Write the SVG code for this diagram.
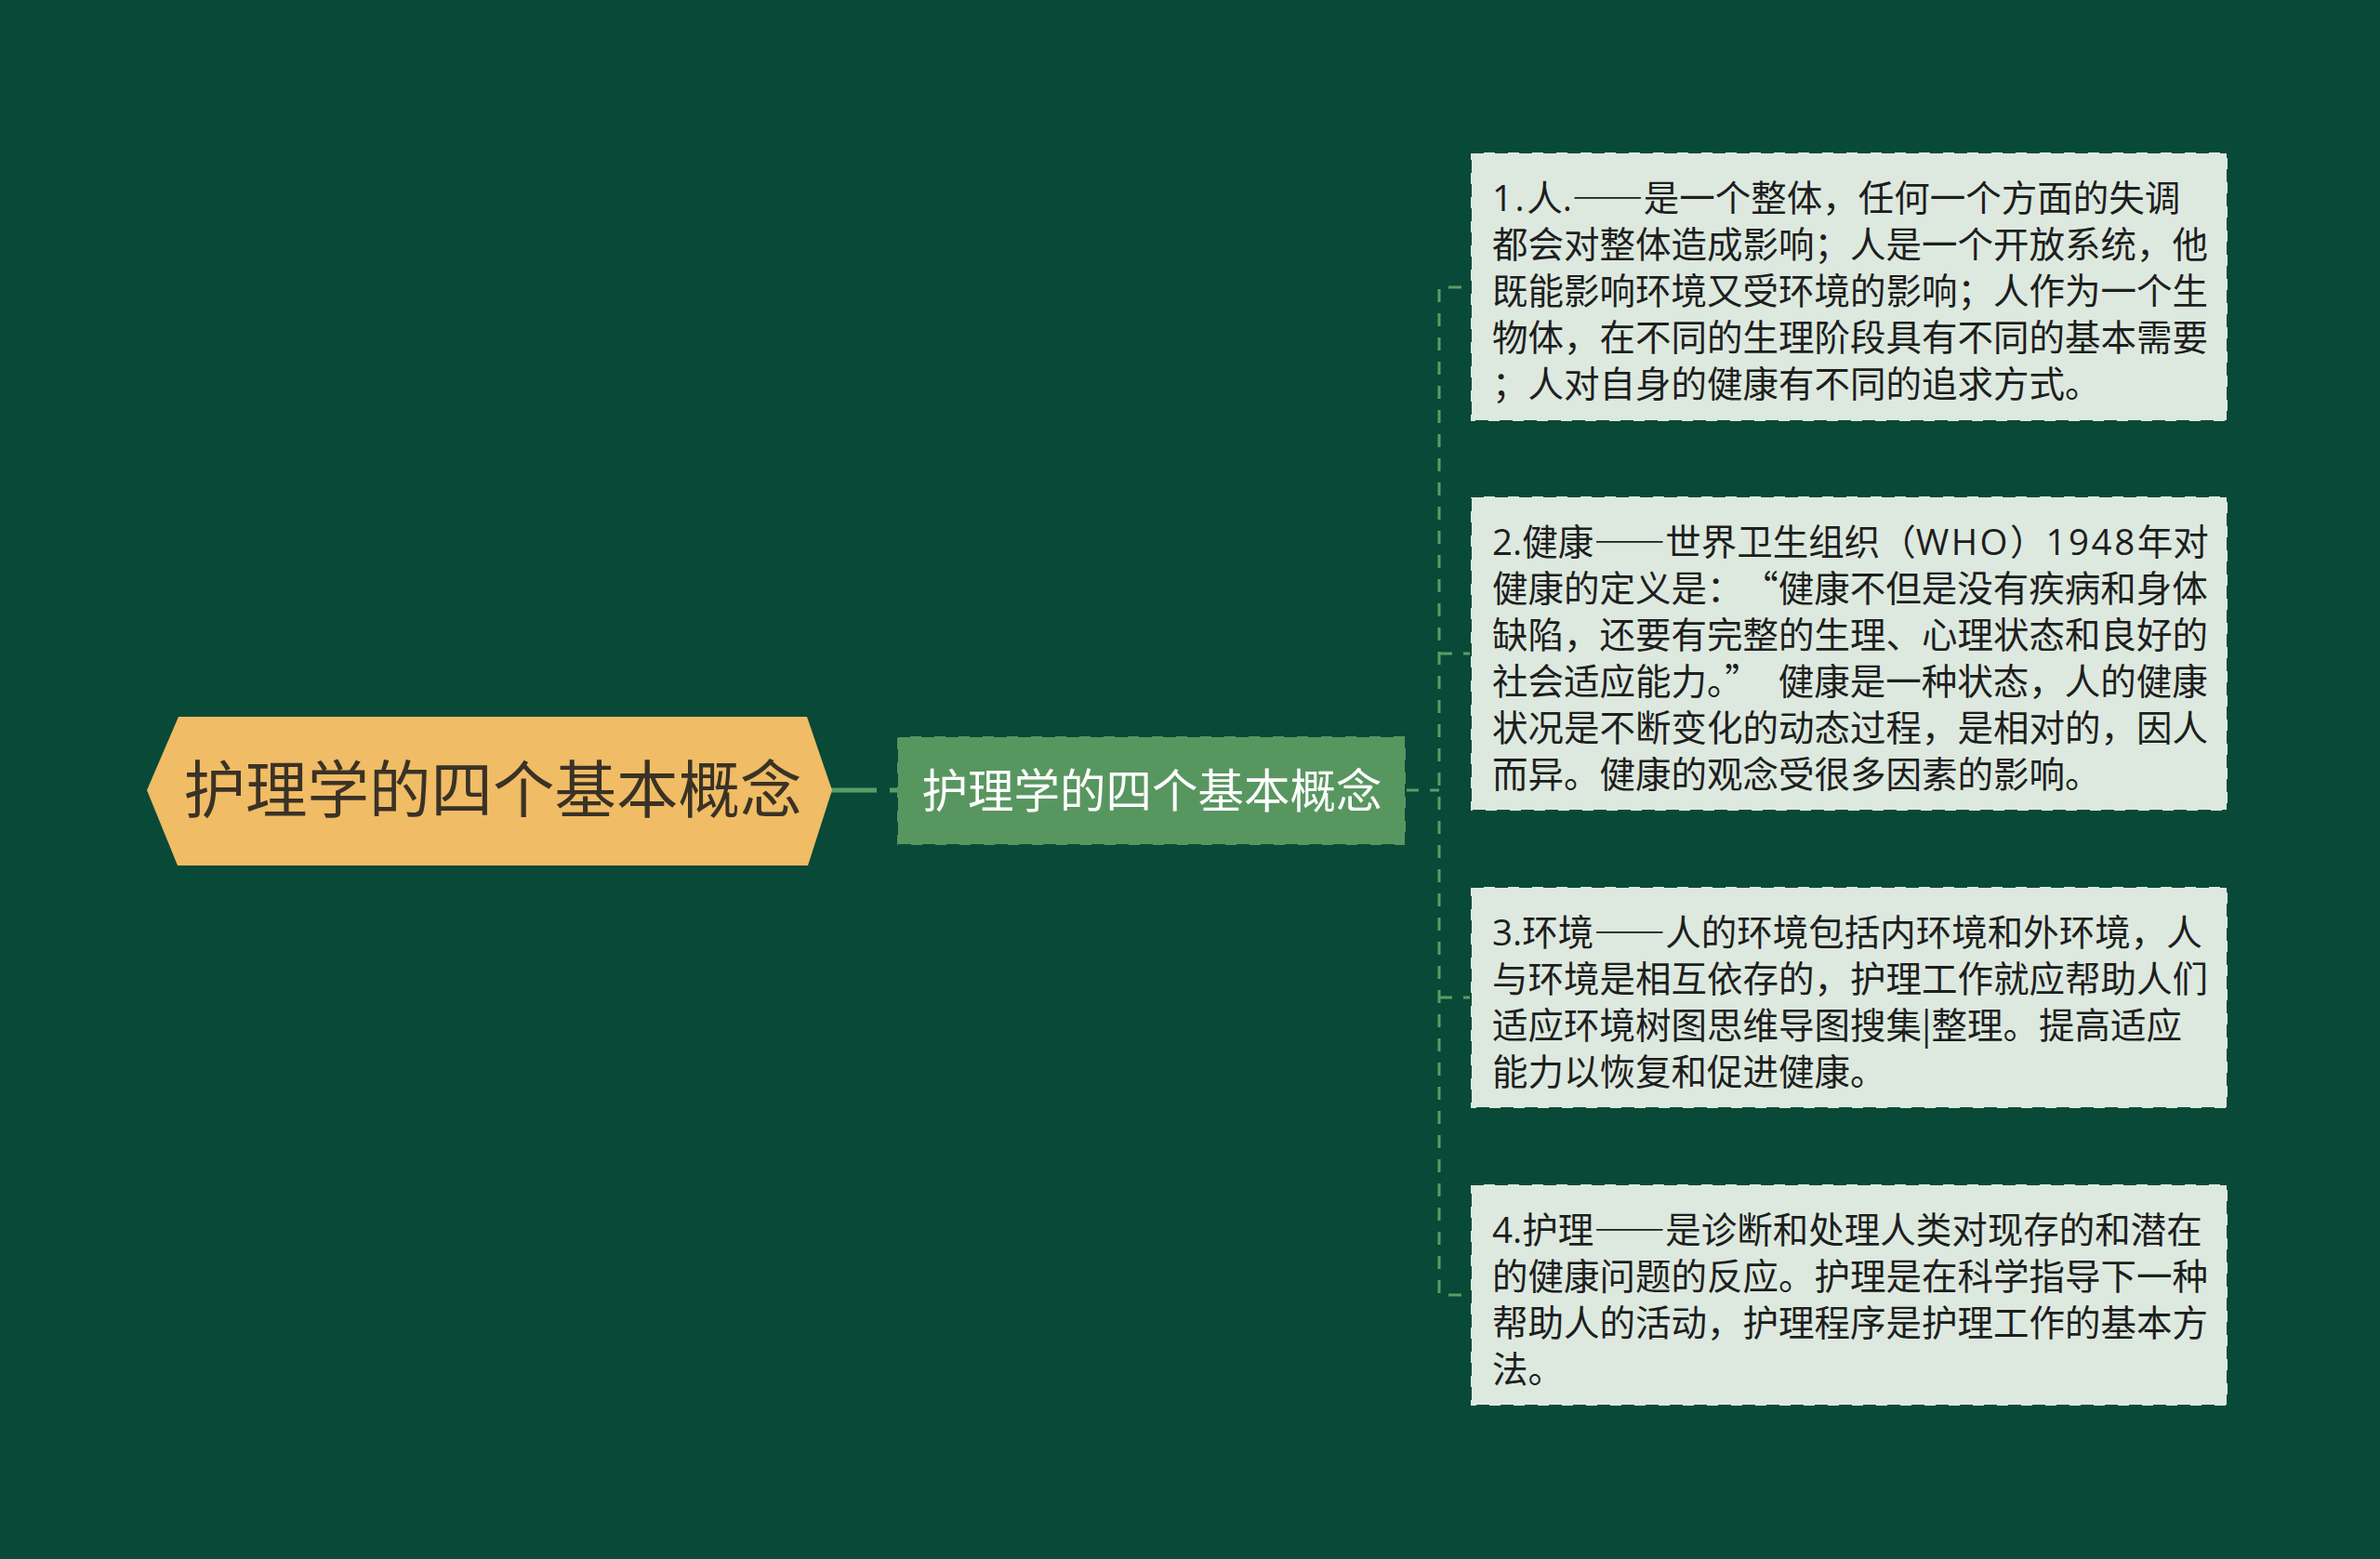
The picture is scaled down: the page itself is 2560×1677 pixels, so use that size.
<svg xmlns="http://www.w3.org/2000/svg" width="2560" height="1677" viewBox="0 0 2560 1677">
<style>
.bg{fill:#084937}
.conn{fill:none;stroke:#5a9d66;stroke-width:3;stroke-dasharray:14 12}
.conn-root{fill:none;stroke:#5a9d66;stroke-width:5}
.leaf rect{fill:#dde9df;stroke:#0d4a38;stroke-width:2;stroke-dasharray:14 12}
.leaf text{font-family:"Noto Sans CJK SC","Noto Sans",sans-serif;font-size:38.5px;fill:#1e1e1e}
.fw{font-feature-settings:"fwid" 1}
.lat{font-family:"Open Sans","Noto Sans",sans-serif}
.wide{letter-spacing:2.5px}
.root text{font-family:"Noto Sans CJK SC","Noto Sans",sans-serif;font-size:66.5px;fill:#3a3226}
.mid text{font-family:"Noto Sans CJK SC","Noto Sans",sans-serif;font-size:49.5px;fill:#ffffff}
</style>
<rect class="bg" x="0" y="0" width="2560" height="1677"/>
<g id="connectors">
<path class="conn-root" d="M894 850 H943 M957 850 H965"/>
<path class="conn" d="M1512 850 H1548"/>
<path class="conn" d="M1572 309 H1548 V1393 H1572"/>
<path class="conn" d="M1548 703 H1582"/>
<path class="conn" d="M1548 1073 H1582"/>
</g>
<g id="root" class="root">
<polygon points="158,850 192,771 868,771 895,850 869,931 191,931" fill="#f0bc65"/>
<text x="530" y="874" text-anchor="middle">护理学的四个基本概念</text>
</g>
<g id="mid" class="mid">
<rect x="965" y="792" width="547" height="117" fill="#589660" stroke="#0d4a38" stroke-width="2" stroke-dasharray="14 12"/>
<text x="1239" y="869" text-anchor="middle">护理学的四个基本概念</text>
</g>
<g id="leaf1" class="leaf">
<rect x="1582" y="164" width="814" height="289"/>
<text x="1605" y="227"><tspan class="lat wide">1.</tspan>人<tspan class="lat">.</tspan><tspan class="fw">——</tspan>是一个整体，任何一个方面的失调<tspan x="1605" y="277">都会对整体造成影响；人是一个开放系统，他</tspan><tspan x="1605" y="327">既能影响环境又受环境的影响；人作为一个生</tspan><tspan x="1605" y="377">物体，在不同的生理阶段具有不同的基本需要</tspan><tspan x="1605" y="427">；人对自身的健康有不同的追求方式。</tspan></text>
</g>
<g id="leaf2" class="leaf">
<rect x="1582" y="534" width="814" height="338"/>
<text x="1605" y="597"><tspan class="lat">2.</tspan>健康<tspan class="fw">——</tspan>世界卫生组织（<tspan class="lat wide">WHO</tspan>）<tspan class="lat wide">1948</tspan>年对<tspan x="1605" y="647">健康的定义是：<tspan dx="19">“</tspan>健康不但是没有疾病和身体</tspan><tspan x="1605" y="697">缺陷，还要有完整的生理、心理状态和良好的</tspan><tspan x="1605" y="747">社会适应能力。”<tspan dx="19">健康是一种状态，人的健康</tspan></tspan><tspan x="1605" y="797">状况是不断变化的动态过程，是相对的，因人</tspan><tspan x="1605" y="847">而异。健康的观念受很多因素的影响。</tspan></text>
</g>
<g id="leaf3" class="leaf">
<rect x="1582" y="954" width="814" height="238"/>
<text x="1605" y="1017"><tspan class="lat">3.</tspan>环境<tspan class="fw">——</tspan>人的环境包括内环境和外环境，人<tspan x="1605" y="1067">与环境是相互依存的，护理工作就应帮助人们</tspan><tspan x="1605" y="1117">适应环境树图思维导图搜集|整理。提高适应</tspan><tspan x="1605" y="1167">能力以恢复和促进健康。</tspan></text>
</g>
<g id="leaf4" class="leaf">
<rect x="1582" y="1274" width="814" height="238"/>
<text x="1605" y="1337"><tspan class="lat">4.</tspan>护理<tspan class="fw">——</tspan>是诊断和处理人类对现存的和潜在<tspan x="1605" y="1387">的健康问题的反应。护理是在科学指导下一种</tspan><tspan x="1605" y="1437">帮助人的活动，护理程序是护理工作的基本方</tspan><tspan x="1605" y="1487">法。</tspan></text>
</g>
</svg>
